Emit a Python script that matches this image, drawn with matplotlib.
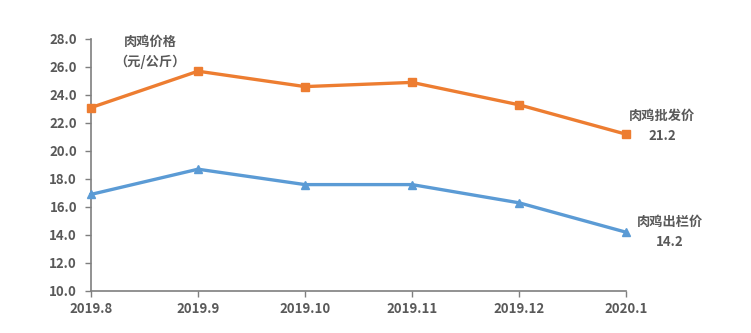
import matplotlib
matplotlib.use("Agg")
import matplotlib.pyplot as plt

plt.rcParams['font.family'] = ['Noto Sans CJK SC', 'DejaVu Sans']

months = ["2019.8", "2019.9", "2019.10", "2019.11", "2019.12", "2020.1"]
wholesale = [23.1, 25.7, 24.6, 24.9, 23.3, 21.2]
farmgate = [16.9, 18.7, 17.6, 17.6, 16.3, 14.2]
yticks = [10, 12, 14, 16, 18, 20, 22, 24, 26, 28]

orange = "#ED7D31"
blue = "#5B9BD5"
txt = "#595959"

fig = plt.figure(figsize=(7.51, 3.33), dpi=100)
ax = fig.add_axes([91/751, 42/333, 535/751, 252/333])
x = list(range(len(months)))
ax.plot(x, wholesale, color=orange, lw=2.4, marker='s', ms=5.5, clip_on=False, zorder=3)
ax.plot(x, farmgate, color=blue, lw=2.4, marker='^', ms=6, clip_on=False, zorder=3)

ax.set_xlim(0, len(months) - 1)
ax.set_ylim(10, 28)
ax.set_yticks(yticks)
ax.set_yticklabels([f"{v:.1f}" for v in yticks])
ax.set_xticks(x)
ax.set_xticklabels(months)
for s in ['top', 'right']:
    ax.spines[s].set_visible(False)
for s in ['left', 'bottom']:
    ax.spines[s].set_color('#7f7f7f')
    ax.spines[s].set_linewidth(1.2)
ax.tick_params(axis='both', colors='#7f7f7f', labelcolor=txt, labelsize=9.5, length=4, width=1, direction='out')
ax.tick_params(axis='x', pad=4)
ax.tick_params(axis='y', pad=6)
for lab in ax.get_xticklabels() + ax.get_yticklabels():
    lab.set_fontweight('bold')

fig.text(150/751, 1 - 52/333, "肉鸡价格\n（元/公斤）", ha='center', va='center',
         fontsize=9.5, fontweight='bold', color=txt, linespacing=1.5)
fig.text(662/751, 1 - 126/333, f"肉鸡批发价\n{wholesale[-1]}", ha='center', va='center',
         fontsize=9.5, fontweight='bold', color=txt, linespacing=1.5)
fig.text(670/751, 1 - 232/333, f"肉鸡出栏价\n{farmgate[-1]}", ha='center', va='center',
         fontsize=9.5, fontweight='bold', color=txt, linespacing=1.5)

fig.savefig("out.png", dpi=100)
